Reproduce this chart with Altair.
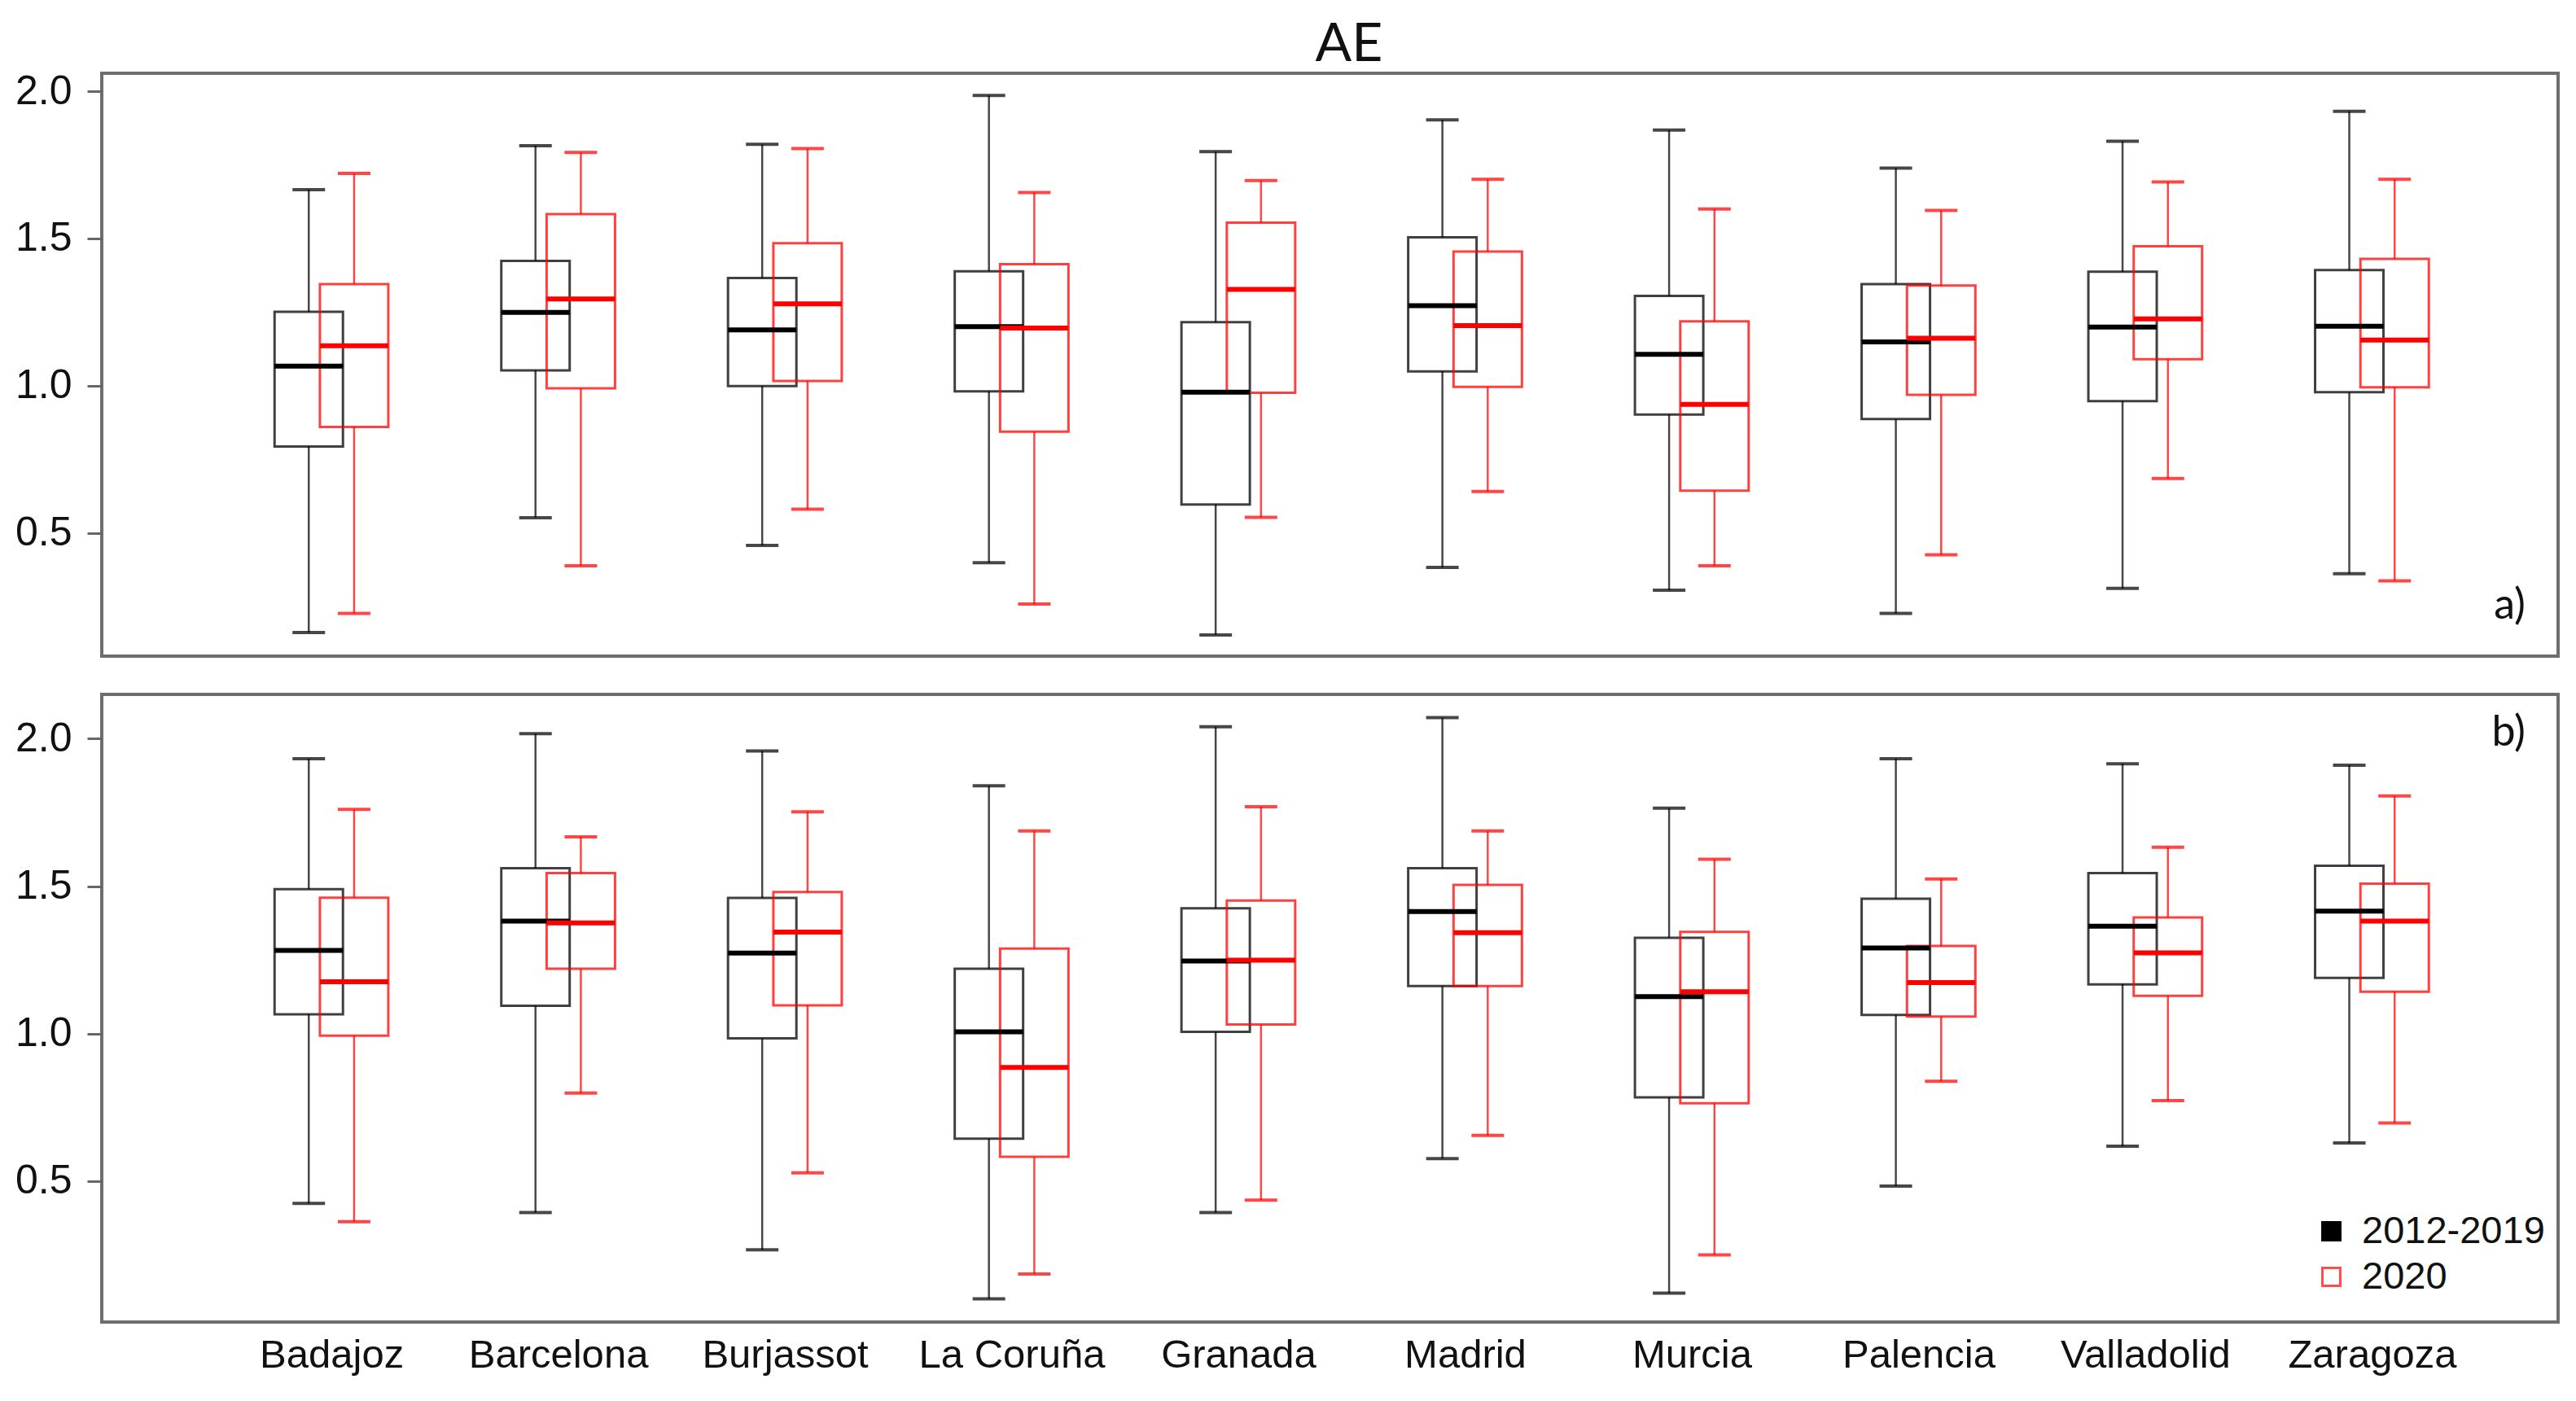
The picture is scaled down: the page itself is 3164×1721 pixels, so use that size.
import json
import altair as alt
import pandas as pd

CITIES = ["Badajoz", "Barcelona", "Burjassot", "La Coruña", "Granada",
          "Madrid", "Murcia", "Palencia", "Valladolid", "Zaragoza"]
PERIODS = ["2012-2019", "2020"]
TITLE = "AE"
PANEL_LABELS = ["a)", "b)"]
Y_TICKS = [0.5, 1.0, 1.5, 2.0]

# ---- panel a) ----
A_BASE_LO = [0.162, 0.552, 0.458, 0.399, 0.154, 0.383, 0.306, 0.227, 0.312, 0.362]
A_BASE_Q1 = [0.794, 1.052, 0.999, 0.981, 0.597, 1.049, 0.902, 0.887, 0.948, 0.978]
A_BASE_MED = [1.067, 1.249, 1.190, 1.201, 0.978, 1.272, 1.107, 1.149, 1.199, 1.202]
A_BASE_Q3 = [1.251, 1.424, 1.366, 1.389, 1.216, 1.504, 1.305, 1.345, 1.387, 1.393]
A_BASE_HI = [1.666, 1.815, 1.820, 1.986, 1.795, 1.903, 1.868, 1.739, 1.830, 1.932]

A_2020_LO = [0.227, 0.389, 0.581, 0.259, 0.553, 0.641, 0.389, 0.426, 0.685, 0.338]
A_2020_Q1 = [0.860, 0.991, 1.016, 0.844, 0.976, 0.996, 0.644, 0.969, 1.090, 0.995]
A_2020_MED = [1.136, 1.295, 1.278, 1.196, 1.327, 1.204, 0.937, 1.161, 1.227, 1.155]
A_2020_Q3 = [1.345, 1.583, 1.484, 1.413, 1.554, 1.456, 1.219, 1.340, 1.474, 1.431]
A_2020_HI = [1.721, 1.792, 1.805, 1.656, 1.697, 1.701, 1.600, 1.595, 1.692, 1.701]

# ---- panel b) ----
B_BASE_LO = [0.424, 0.393, 0.267, 0.101, 0.393, 0.576, 0.120, 0.483, 0.618, 0.629]
B_BASE_Q1 = [1.065, 1.094, 0.984, 0.644, 1.006, 1.161, 0.784, 1.063, 1.167, 1.189]
B_BASE_MED = [1.282, 1.381, 1.273, 1.006, 1.246, 1.414, 1.125, 1.290, 1.364, 1.415]
B_BASE_Q3 = [1.490, 1.561, 1.460, 1.220, 1.425, 1.561, 1.325, 1.457, 1.544, 1.569]
B_BASE_HI = [1.932, 2.017, 1.958, 1.840, 2.040, 2.071, 1.764, 1.932, 1.915, 1.910]

B_2020_LO = [0.362, 0.798, 0.528, 0.185, 0.435, 0.655, 0.250, 0.838, 0.773, 0.697]
B_2020_Q1 = [0.993, 1.220, 1.096, 0.582, 1.031, 1.161, 0.764, 1.058, 1.128, 1.142]
B_2020_MED = [1.176, 1.375, 1.344, 0.885, 1.249, 1.342, 1.142, 1.173, 1.274, 1.381]
B_2020_Q3 = [1.461, 1.544, 1.480, 1.288, 1.451, 1.504, 1.345, 1.297, 1.394, 1.508]
B_2020_HI = [1.760, 1.667, 1.752, 1.687, 1.769, 1.687, 1.591, 1.524, 1.632, 1.806]


def build(stats):
    rows = []
    for period, (lo, q1, med, q3, hi) in zip(PERIODS, stats):
        for i, c in enumerate(CITIES):
            rows.append(dict(city=c, idx=i + 1, period=period, lo=lo[i], q1=q1[i],
                             med=med[i], q3=q3[i], hi=hi[i]))
    return pd.DataFrame(rows)


df_a = build([(A_BASE_LO, A_BASE_Q1, A_BASE_MED, A_BASE_Q3, A_BASE_HI),
              (A_2020_LO, A_2020_Q1, A_2020_MED, A_2020_Q3, A_2020_HI)])
df_b = build([(B_BASE_LO, B_BASE_Q1, B_BASE_MED, B_BASE_Q3, B_BASE_HI),
              (B_2020_LO, B_2020_Q1, B_2020_MED, B_2020_Q3, B_2020_HI)])

W = 3017
LABEL_EXPR = json.dumps(CITIES, ensure_ascii=False) + "[datum.value - 1]"

# colour of the boxes (domain taken from the data: "2012-2019" < "2020")
color_scale = alt.Scale(range=["#000000", "#ff0000"])
key_stroke_scale = alt.Scale(domain=PERIODS, range=["#000000", "#ff4d4d"])
key_fill_scale = alt.Scale(domain=PERIODS, range=["#000000", "#ffffff"])

LEG_PROPS = dict(orient="none", legendX=2715, legendY=636, title=None,
                 labelFont="Liberation Sans", labelFontSize=47, labelColor="#111111",
                 labelLimit=0, symbolSize=480, symbolStrokeWidth=3, labelOffset=14,
                 rowPadding=8, padding=0, symbolType="square", symbolOpacity=1)


def panel(df, ydomain, height, label, label_y, show_x, show_legend):
    base = alt.Chart(df).transform_calculate(
        pos="datum.idx + (datum.period === '2020' ? 0.1 : -0.1)"
    )
    if show_x:
        xaxis = alt.Axis(values=list(range(1, len(CITIES) + 1)), labelExpr=LABEL_EXPR,
                         ticks=False, domain=False, grid=False, labelPadding=16,
                         labelLimit=0, labelFontSize=49, labelFont="Liberation Sans",
                         labelColor="#111111")
    else:
        xaxis = None
    x = alt.X("pos:Q", scale=alt.Scale(domain=[0.005, 10.803], nice=False, zero=False),
              axis=xaxis, title=None)
    yscale = alt.Scale(domain=ydomain, nice=False, zero=False)
    yaxis = alt.Axis(values=Y_TICKS, format=".1f", grid=False, domain=False,
                     tickSize=18, tickWidth=3, tickColor="#666666", labelPadding=19,
                     labelFontSize=50, labelFont="Liberation Sans", labelColor="#111111",
                     minExtent=107, maxExtent=107)

    def Y(f):
        return alt.Y(f, scale=yscale, axis=yaxis, title=None)

    color = alt.Color("period:N", scale=color_scale, legend=None)

    lower = base.mark_rule(strokeWidth=2.5, opacity=0.72).encode(
        x=x, y=Y("lo:Q"), y2="q1:Q", color=color)
    upper = base.mark_rule(strokeWidth=2.5, opacity=0.72).encode(
        x=x, y=Y("q3:Q"), y2="hi:Q", color=color)
    box = base.mark_bar(size=84, filled=False, strokeWidth=3, strokeOpacity=0.75).encode(
        x=x, y=Y("q1:Q"), y2="q3:Q", color=color)
    cap_lo = base.mark_tick(orient="horizontal", size=40, thickness=4, opacity=0.72).encode(
        x=x, y=Y("lo:Q"), color=color)
    cap_hi = base.mark_tick(orient="horizontal", size=40, thickness=4, opacity=0.72).encode(
        x=x, y=Y("hi:Q"), color=color)
    med = base.mark_tick(orient="horizontal", size=84, thickness=6, opacity=1).encode(
        x=x, y=Y("med:Q"), color=color)
    lab = alt.Chart(pd.DataFrame({"label": [label]})).mark_text(
        font="Lato", fontSize=52, align="right", baseline="alphabetic", color="#111111"
    ).encode(text="label:N", x=alt.value(2977), y=alt.value(label_y))

    layers = [lower, upper, box, cap_lo, cap_hi, med, lab]
    if show_legend:
        key = base.mark_point(shape="square", size=0, strokeWidth=3).encode(
            x=x, y=Y("med:Q"),
            fill=alt.Fill("period:N", scale=key_fill_scale, legend=alt.Legend(**LEG_PROPS)),
            stroke=alt.Stroke("period:N", scale=key_stroke_scale,
                              legend=alt.Legend(**LEG_PROPS)),
        )
        layers.append(key)
    return alt.layer(*layers).properties(width=W, height=height)


top = panel(df_a, [0.082, 2.061], 716, PANEL_LABELS[0], 670, False, False)
bottom = panel(df_b, [0.022, 2.150], 771, PANEL_LABELS[1], 63, True, True)

chart = (
    alt.vconcat(top, bottom, spacing=43)
    .resolve_legend(fill="independent", stroke="independent", color="independent")
    .properties(
        title=alt.TitleParams(TITLE, font="Lato", fontSize=66, fontWeight="normal",
                              color="#111111", anchor="middle", offset=-4, dx=77),
        padding={"left": 8, "top": 14, "right": 5, "bottom": 5},
        background="white",
    )
    .configure_view(stroke="#6e6e6e", strokeWidth=4)
)

chart.save("out.html", embed_options={"renderer": "svg", "actions": False})
